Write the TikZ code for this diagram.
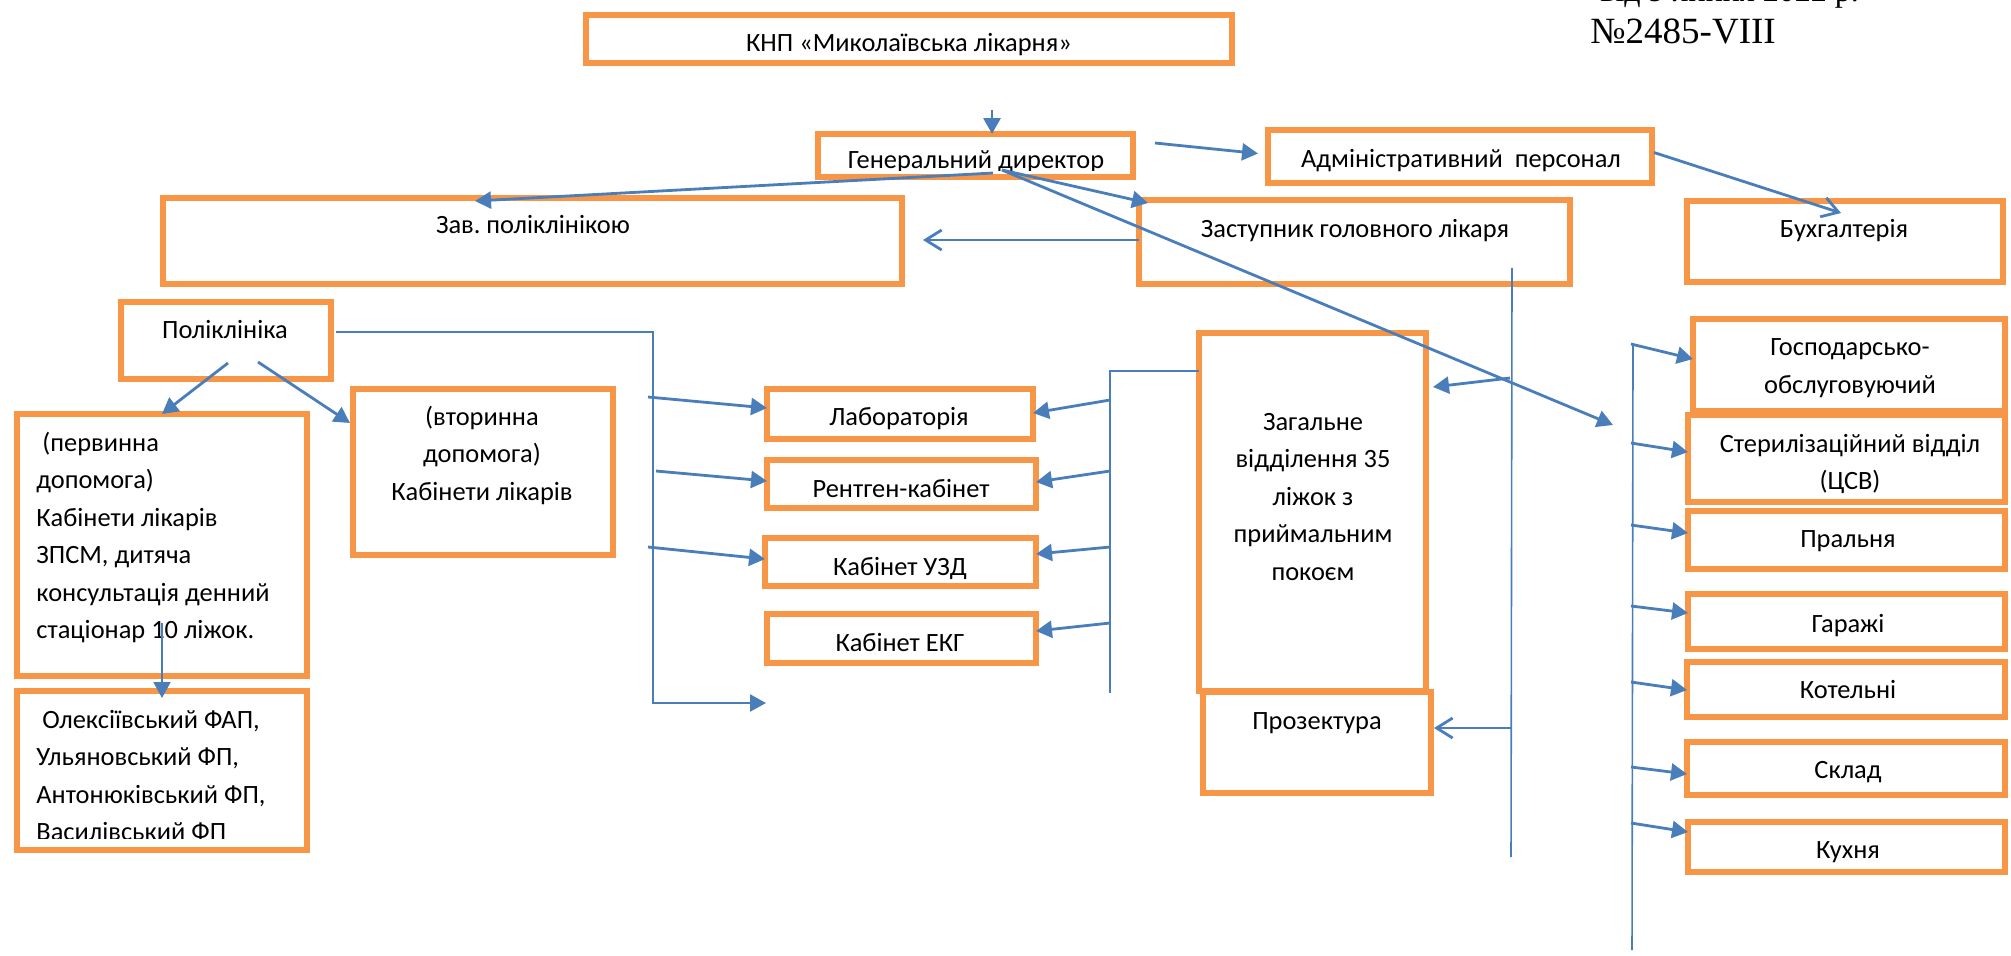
\documentclass[tikz,border=0pt]{standalone}
\usepackage{fontspec}
\setmainfont{Carlito}
\newfontfamily\timesfont{Liberation Serif}
\usetikzlibrary{arrows.meta,calc}
\definecolor{boxorange}{HTML}{F79646}
\definecolor{lineblue}{HTML}{4A7EBB}
\tikzset{
  box/.style={draw=boxorange,line width=2.8pt,anchor=north west,inner sep=0pt,outer sep=0pt},
  boxsize/.style 2 args={minimum width=#1*0.5pt,minimum height=#2*0.5pt},
  txt/.style={inner sep=0pt,anchor=base,font=\fontsize{13.2}{18.75}\selectfont},
  link/.style={draw=lineblue,line width=1.4pt,-{Triangle[length=8pt,width=8.5pt]}},
  openlink/.style={draw=lineblue,line width=1.4pt,-{Straight Barb[length=8pt,width=10pt]}},
  bus/.style={draw=lineblue,line width=0.8pt}
}
\begin{document}
\begin{tikzpicture}[x=0.5pt,y=-0.5pt]
\useasboundingbox (0,0) rectangle (2011,955);
\node[box,boxsize={646}{48}] (kmp) at (586,15) {};
\node[box,boxsize={315}{43}] (gen) at (818,134) {};
\node[box,boxsize={384}{53}] (adm) at (1268,130) {};
\node[box,boxsize={739}{86}] (zav) at (163,198) {};
\node[box,boxsize={431}{84}] (zast) at (1139,200) {};
\node[box,boxsize={316}{81}] (buh) at (1687,201) {};
\node[box,boxsize={210}{77}] (pol) at (121,302) {};
\node[box,boxsize={290}{262}] (perv) at (17,414) {};
\node[box,boxsize={290}{159}] (olek) at (17,691) {};
\node[box,boxsize={260}{166}] (vtor) at (353,389) {};
\node[box,boxsize={266}{50}] (lab) at (767,389) {};
\node[box,boxsize={269}{48}] (rent) at (767,460) {};
\node[box,boxsize={271}{48}] (uzd) at (765,538) {};
\node[box,boxsize={269}{49}] (ekg) at (767,614) {};
\node[box,boxsize={227}{358}] (zag) at (1199,333) {};
\node[box,boxsize={228}{101}] (proz) at (1203,692) {};
\node[box,boxsize={312}{92}] (hosp) at (1693,319) {};
\node[box,boxsize={317}{87}] (ster) at (1688,415) {};
\node[box,boxsize={317}{58}] (pral) at (1688,511) {};
\node[box,boxsize={317}{55}] (gar) at (1688,594) {};
\node[box,boxsize={318}{55}] (kot) at (1687,662) {};
\node[box,boxsize={318}{53}] (skl) at (1687,742) {};
\node[box,boxsize={317}{50}] (kuh) at (1688,822) {};
\begin{scope}
\clip (0,0) rectangle (2011,955);
\node[txt,anchor=base west,font=\timesfont\fontsize{16}{19}\selectfont] (lawDate) at (1600,1) {від 9 липня 2022 р.};
\end{scope}
\node[txt,anchor=base west,font=\timesfont\fontsize{18.5}{22}\selectfont] (lawNo) at (1590,43) {№2485-VIII};
\node[txt] (kmpT) at (909,51) {КНП «Миколаївська лікарня»};
\begin{scope}
\clip (gen.north west) rectangle ($(gen.south east)+(0,-7)$);
\node[txt] (genT) at (976,168) {Генеральний директор};
\end{scope}
\node[txt] (admT) at (1461,167) {Адміністративний~ персонал};
\node[txt] (zavT) at (533,233) {Зав.\ поліклінікою};
\node[txt] (zastT) at (1355,237) {Заступник головного лікаря};
\node[txt] (buhT) at (1844,237) {Бухгалтерія};
\node[txt] (polT) at (225,338) {Поліклініка};
\node[txt,anchor=base west,align=left] (pervT) at (36,638.5) {~(первинна\\допомога)\\Кабінети лікарів\\ЗПСМ, дитяча\\консультація денний\\стаціонар 10 ліжок.};
\begin{scope}
\clip (olek.north west) rectangle ($(olek.south east)+(0,-12)$);
\node[txt,anchor=base west,align=left] (olekT) at (36,840.5) {~Олексіївський ФАП,\\Ульяновський ФП,\\Антонюківський ФП,\\Василівський ФП};
\end{scope}
\node[txt,align=center] (vtorT) at (482,500) {(вторинна\\допомога)\\Кабінети лікарів};
\node[txt] (labT) at (899,425) {Лабораторія};
\node[txt] (rentT) at (901,497) {Рентген-кабінет};
\node[txt] (uzdT) at (900,575) {Кабінет УЗД};
\node[txt] (ekgT) at (900,651) {Кабінет ЕКГ};
\node[txt,align=center] (zagT) at (1313,580) {Загальне\\відділення 35\\ліжок з\\приймальним\\покоєм};
\node[txt] (prozT) at (1317,729) {Прозектура};
\node[txt,align=center] (hospT) at (1850,393) {Господарсько-\\обслуговуючий};
\node[txt,align=center] (sterT) at (1850,489.5) {Стерилізаційний відділ\\(ЦСВ)};
\node[txt] (pralT) at (1848,547) {Пральня};
\node[txt] (garT) at (1848,632) {Гаражі};
\node[txt] (kotT) at (1848,698) {Котельні};
\node[txt] (sklT) at (1848,778) {Склад};
\node[txt] (kuhT) at (1848,858) {Кухня};
\coordinate (knpOut) at (992,110);
\coordinate (genA) at (993,173);
\coordinate (genB) at (1002,170);
\coordinate (genC) at (1155,143);
\coordinate (farEnd) at (1613,425);
\draw[link] (knpOut) -- (knpOut |- gen.north);
\draw[link] (genC) -- ($(adm.west)+(-10,-3)$);
\draw[link] (genA) -- ($(zav.north west)+(312,3)$);
\draw[link] (genB) -- ($(zast.north west)+(9,3)$);
\draw[link] (genB) -- (farEnd);
\draw[openlink] ($(adm.east)+(2,-4)$) -- ($(buh.north west)+(154,12)$);
\draw[openlink] ($(zast.west)+(0,-2)$) -- ++(-216,0);
\coordinate (polOut) at (336,332);
\coordinate (polL) at (228,363);
\coordinate (polR) at (258,362);
\coordinate (abusT) at (653,332);
\coordinate (abusB) at (653,703);
\coordinate (abusEnd) at (766,703);
\draw[link,line width=1.2pt] (polOut) -- (abusT) -- (abusB) -- (abusEnd);
\draw[link] (polL) -- (perv.north);
\draw[link] (polR) -- ($(vtor.north west)+(-3,34)$);
\coordinate (pervOut) at (162,623);
\draw[link,line width=1pt] (pervOut) -- ($(olek.north)+(0,7)$);
\foreach \n/\dx/\s/\t in {lab/-5/-17/-6,rent/3/-13/-3,uzd/-5/-15/-3}
  \draw[link] ($(abusT |- \n.west)+(\dx,\s)$) -- ($(\n.west)+(0,\t)$);
\coordinate (zbusT) at (1110,371);
\coordinate (zbusB) at (1110,693);
\draw[bus] ($(zag.west)+(0,-141)$) -- (zbusT) -- (zbusB);
\foreach \n/\s/\t in {lab/-14/-1,rent/-13/-2,uzd/-15/-8,ekg/-15.5/-7.5}
  \draw[link] ($(zbusT |- \n.east)+(0,\s)$) -- ($(\n.east)+(0,\t)$);
\coordinate (sbusT) at (1512,268);
\coordinate (sbusB) at (1511,857);
\draw[bus] (sbusT) -- (sbusB);
\draw[link] ($(sbusT |- zag.west)+(-2,-134)$) -- ($(zag.east)+(7,-125)$);
\draw[openlink] ($(sbusT |- proz.east)+(0,-14.5)$) -- ($(proz.east)+(3,-14.5)$);
\coordinate (rbusT) at (1633,344);
\coordinate (rbusB) at (1632,950);
\draw[bus] (rbusT) -- (rbusB);
\foreach \n/\s/\t in {hosp/-21/-6,ster/-15.5/-6.5,pral/-15/-7,gar/-15.5/-8.5,kot/-7.5/0.5,skl/-1.5/5.5,kuh/-24/-15}
  \draw[link] ($(rbusT |- \n.west)+(-2,\s)$) -- ($(\n.west)+(0,\t)$);
\end{tikzpicture}
\end{document}
